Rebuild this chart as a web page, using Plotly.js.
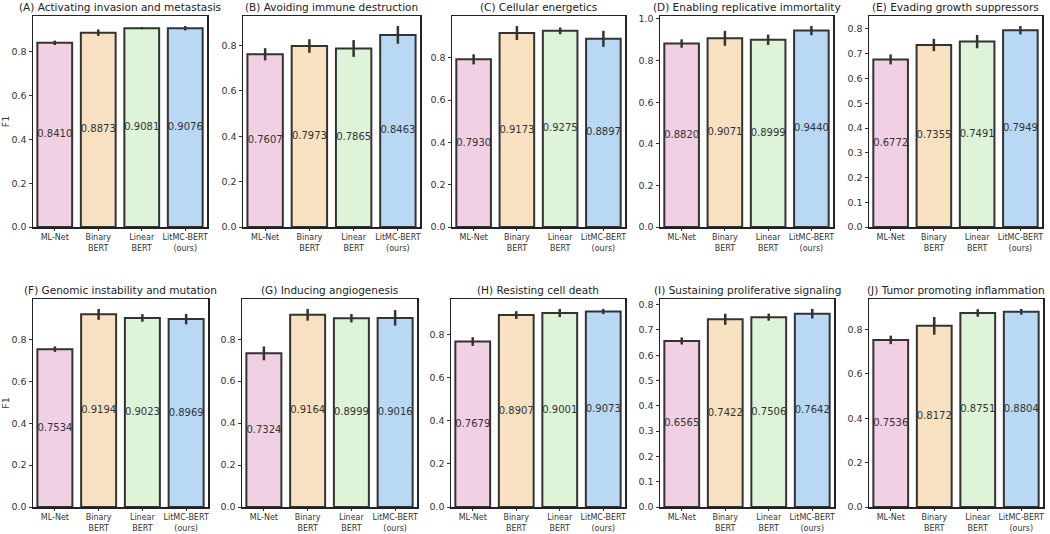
<!DOCTYPE html>
<html>
<head>
<meta charset="utf-8">
<script src="https://cdn.plot.ly/plotly-3.0.1.min.js"></script>
<style>html,body{margin:0;padding:0;background:#fff;}#chart{width:1050px;height:534px;}</style>
</head>
<body>
<div id="chart"></div>
<script>
const models = ["ML-Net", "Binary<br>BERT", "Linear<br>BERT", "LitMC-BERT<br>(ours)"];
const panelTitles = [
  "(A) Activating invasion and metastasis",
  "(B) Avoiding immune destruction",
  "(C) Cellular energetics",
  "(D) Enabling replicative immortality",
  "(E) Evading growth suppressors",
  "(F) Genomic instability and mutation",
  "(G) Inducing angiogenesis",
  "(H) Resisting cell death",
  "(I) Sustaining proliferative signaling",
  "(J) Tumor promoting inflammation"
];
const valuesA = [0.8410, 0.8873, 0.9081, 0.9076];
const valuesB = [0.7607, 0.7973, 0.7865, 0.8463];
const valuesC = [0.7930, 0.9173, 0.9275, 0.8897];
const valuesD = [0.8820, 0.9071, 0.8999, 0.9440];
const valuesE = [0.6772, 0.7355, 0.7491, 0.7949];
const valuesF = [0.7534, 0.9194, 0.9023, 0.8969];
const valuesG = [0.7324, 0.9164, 0.8999, 0.9016];
const valuesH = [0.7679, 0.8907, 0.9001, 0.9073];
const valuesI = [0.6565, 0.7422, 0.7506, 0.7642];
const valuesJ = [0.7536, 0.8172, 0.8751, 0.8804];
const errA = [0.010, 0.015, 0.005, 0.010];
const errB = [0.027, 0.030, 0.037, 0.039];
const errC = [0.024, 0.033, 0.016, 0.038];
const errD = [0.020, 0.036, 0.025, 0.022];
const errE = [0.020, 0.025, 0.027, 0.017];
const errF = [0.013, 0.026, 0.018, 0.025];
const errG = [0.033, 0.028, 0.020, 0.037];
const errH = [0.020, 0.018, 0.019, 0.012];
const errI = [0.014, 0.022, 0.014, 0.019];
const errJ = [0.019, 0.040, 0.017, 0.013];

const allValues = [valuesA, valuesB, valuesC, valuesD, valuesE, valuesF, valuesG, valuesH, valuesI, valuesJ];
const allErr = [errA, errB, errC, errD, errE, errF, errG, errH, errI, errJ];

const barColors = ["#f1d0e4", "#f8e1c1", "#ddf4d9", "#b9d8f4"];
const W = 1050, H = 534;
const colPx = [[[33,207],[243,420],[452,625],[660,833],[869,1042]],
               [[33,208],[242,417],[451,625],[660,834],[869,1043]]];
const rowPx = [[16,227],[299,507]];
const dticks = [0.2,0.2,0.2,0.2,0.1,0.2,0.2,0.2,0.1,0.2];

const font = "DejaVu Sans, sans-serif";
const data = [];
const layout = {
  width: W, height: H,
  margin: {l:0, r:0, t:0, b:0},
  paper_bgcolor: "#fff", plot_bgcolor: "#fff",
  showlegend: false,
  font: {family: font, color: "#333", size: 10},
  annotations: [],
  bargap: 0.2
};

for (let p = 0; p < 10; p++) {
  const r = Math.floor(p / 5), c = p % 5;
  const n = p + 1;
  const xa = n === 1 ? "x" : "x" + n;
  const ya = n === 1 ? "y" : "y" + n;
  const vals = allValues[p], errs = allErr[p];
  data.push({
    type: "bar", x: [0,1,2,3], y: vals, xaxis: xa, yaxis: ya,
    width: 0.8,
    marker: {color: barColors, line: {color: "#333", width: 2}},
    error_y: {type: "data", array: errs, visible: true, color: "#333", thickness: 2.5, width: 0},
    hoverinfo: "skip"
  });
  data.push({
    type: "scatter", mode: "text", x: [0,1,2,3], y: vals.map(v => v / 2),
    text: vals.map(v => v.toFixed(4)), xaxis: xa, yaxis: ya,
    textposition: "middle center",
    textfont: {family: font, size: 10, color: "#333"},
    hoverinfo: "skip"
  });
  const maxTop = Math.max(...vals.map((v, i) => v + errs[i])) * 1.05;
  const xd = [colPx[r][c][0] / W, colPx[r][c][1] / W];
  const yd = [1 - rowPx[r][1] / H, 1 - rowPx[r][0] / H];
  const xKey = n === 1 ? "xaxis" : "xaxis" + n;
  const yKey = n === 1 ? "yaxis" : "yaxis" + n;
  layout[xKey] = {
    domain: xd, anchor: ya, range: [-0.5, 3.5],
    tickvals: [0,1,2,3], ticktext: models, tickangle: 0,
    showline: true, mirror: true, linecolor: "#222", linewidth: 1.5,
    ticks: "outside", ticklen: 2, tickcolor: "#333",
    showgrid: false, zeroline: false,
    tickfont: {family: font, size: 8, color: "#333"}
  };
  layout[yKey] = {
    domain: yd, anchor: xa, range: [0, maxTop],
    dtick: dticks[p], tickformat: ".1f",
    showline: true, mirror: true, linecolor: "#222", linewidth: 1.5,
    ticks: "outside", ticklen: 3, tickcolor: "#333",
    showgrid: false, zeroline: false,
    tickfont: {family: font, size: 9.5, color: "#333"}
  };
  if (c === 0) {
    layout[yKey].title = {text: "F1", font: {family: font, size: 9.5, color: "#333"}, standoff: 8};
  }
  layout.annotations.push({
    text: panelTitles[p], xref: "paper", yref: "paper",
    x: (xd[0] + xd[1]) / 2, y: yd[1], yanchor: "bottom", xanchor: "center",
    yshift: 1, showarrow: false,
    font: {family: font, size: 10.5, color: "#222"}
  });
}

Plotly.newPlot("chart", data, layout, {displayModeBar: false, staticPlot: true});
</script>
</body>
</html>
